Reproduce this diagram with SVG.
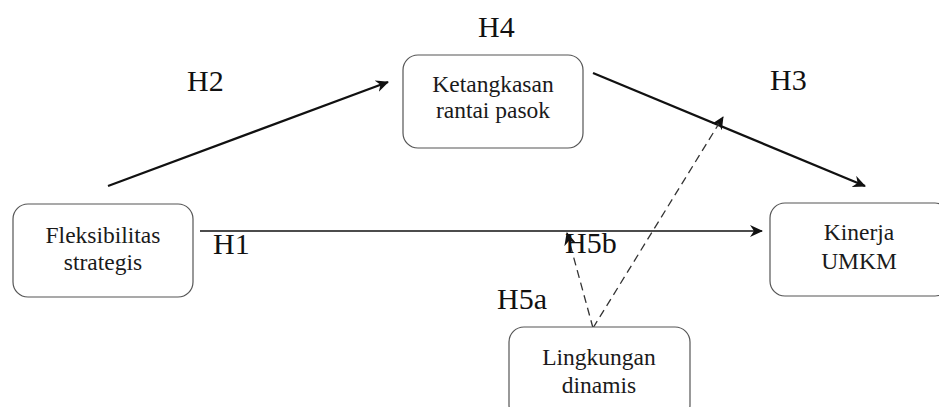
<svg xmlns="http://www.w3.org/2000/svg" width="939" height="407" viewBox="0 0 939 407">
  <style>
    .box { fill: #ffffff; stroke: #555555; stroke-width: 1.2; }
    .node { font-family: "Liberation Serif", "Times New Roman", serif; font-size: 23.5px; fill: #1a1a1a; text-anchor: middle; }
    .lbl { font-family: "Liberation Serif", "Times New Roman", serif; font-size: 30px; fill: #111111; }
    .solid { fill: none; stroke: #111111; }
    .dash { fill: none; stroke: #333333; stroke-width: 1.3; stroke-dasharray: 8 5; }
  </style>
  <defs>
    <marker id="arr" markerUnits="userSpaceOnUse" markerWidth="14" markerHeight="12" refX="12" refY="6" orient="auto">
      <path d="M0,0 L13,6 L0,12 L4,6 Z" fill="#111111"/>
    </marker>
  </defs>
  <rect width="939" height="407" fill="#ffffff"/>

  <g id="connectors">
    <line class="solid" x1="108" y1="186" x2="388" y2="82" stroke-width="2.2" marker-end="url(#arr)"/>
    <line class="solid" x1="593" y1="73" x2="865" y2="186" stroke-width="2.2" marker-end="url(#arr)"/>
    <line class="solid" x1="200" y1="231" x2="762" y2="231" stroke-width="1.6" marker-end="url(#arr)"/>
    <line class="dash" x1="593" y1="328" x2="567" y2="233" marker-end="url(#arr)"/>
    <line class="dash" x1="593" y1="328" x2="723" y2="117" marker-end="url(#arr)"/>
  </g>

  <g id="node-fleksibilitas">
    <rect class="box" x="13" y="204" width="180" height="93" rx="15"/>
    <text class="node" x="103" y="243">Fleksibilitas</text>
    <text class="node" x="103" y="270">strategis</text>
  </g>

  <g id="node-ketangkasan">
    <rect class="box" x="403" y="55" width="180" height="93" rx="15"/>
    <text class="node" x="493" y="92">Ketangkasan</text>
    <text class="node" x="493" y="118">rantai pasok</text>
  </g>

  <g id="node-kinerja">
    <rect class="box" x="770" y="203" width="180" height="93" rx="15"/>
    <text class="node" x="859" y="240">Kinerja</text>
    <text class="node" x="859" y="269">UMKM</text>
  </g>

  <g id="node-lingkungan">
    <rect class="box" x="509" y="327" width="181" height="93" rx="15"/>
    <text class="node" x="599" y="365">Lingkungan</text>
    <text class="node" x="599" y="393">dinamis</text>
  </g>

  <g id="labels">
    <text class="lbl" x="478" y="37">H4</text>
    <text class="lbl" x="187" y="91">H2</text>
    <text class="lbl" x="770" y="90">H3</text>
    <text class="lbl" x="213" y="254">H1</text>
    <text class="lbl" x="565" y="253">H5b</text>
    <text class="lbl" x="497" y="309">H5a</text>
  </g>
</svg>
